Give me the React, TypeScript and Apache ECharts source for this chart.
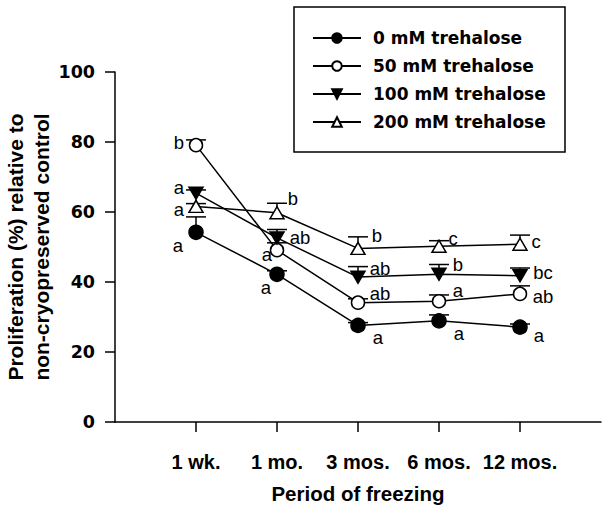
import { useEffect, useRef } from "react";
import * as echarts from "echarts";

const periods = ["1 wk.", "1 mo.", "3 mos.", "6 mos.", "12 mos."];
const seriesNames = ["0 mM trehalose", "50 mM trehalose", "100 mM trehalose", "200 mM trehalose"];

const mean0 = [54.2, 42.2, 27.6, 28.9, 27.1];
const mean50 = [79.1, 49.1, 34.1, 34.5, 36.6];
const mean100 = [65.4, 52.6, 41.4, 42.2, 41.8];
const mean200 = [61.6, 59.8, 49.6, 50.2, 50.8];

// top of each error bar
const upper0 = [58.6, 43.2, 28.4, 30.6, 28.0];
const upper50 = [80.6, 51.2, 35.2, 36.3, 38.9];
const upper100 = [66.3, 55.0, 44.4, 45.0, 44.0];
const upper200 = [62.4, 62.5, 52.9, 51.8, 53.4];

const letters0 = ["a", "a", "a", "a", "a"];
const letters50 = ["b", "a", "ab", "a", "ab"];
const letters100 = ["a", "ab", "ab", "b", "bc"];
const letters200 = ["a", "b", "b", "c", "c"];

// pixel offset of each letter from its point
const offsets0 = [[-18, 13], [-11, 13], [20, 12], [20, 13], [19, 8]];
const offsets50 = [[-17, -3], [-10, 4], [22, -9], [19, -11], [23, 3]];
const offsets100 = [[-17, -6], [23, 0], [22, -9], [19, -10], [23, -3]];
const offsets200 = [[-17, 3], [16, -14], [19, -13], [14, -8], [16, -3]];

const FONT = "'Liberation Sans', Arial, Helvetica, sans-serif";
const WIDE = "'DejaVu Sans', Verdana, sans-serif";

const groups = [
  { name: seriesNames[0], mean: mean0, upper: upper0, letters: letters0, offsets: offsets0, symbol: "circle", fill: "#000", size: 14, rotate: 0 },
  { name: seriesNames[1], mean: mean50, upper: upper50, letters: letters50, offsets: offsets50, symbol: "circle", fill: "#fff", size: 13, rotate: 0 },
  { name: seriesNames[2], mean: mean100, upper: upper100, letters: letters100, offsets: offsets100, symbol: "triangle", fill: "#000", size: [14, 12], rotate: 180 },
  { name: seriesNames[3], mean: mean200, upper: upper200, letters: letters200, offsets: offsets200, symbol: "triangle", fill: "#fff", size: [14, 12], rotate: 0 },
];

const App = () => {
  const chartRef = useRef(null);

  useEffect(() => {
    if (!chartRef.current) return;
    const chart = echarts.init(chartRef.current, null, { renderer: "svg" });

    const errorSeries = groups.map((g) => ({
      type: "custom",
      z: 1,
      silent: true,
      data: g.mean.map((v, i) => [i + 1, v, g.upper[i]]),
      encode: { x: 0, y: [1, 2] },
      renderItem: (params: any, api: any) => {
        const x = api.value(0);
        const lo = api.coord([x, api.value(1)]);
        const hi = api.coord([x, api.value(2)]);
        const style = { stroke: "#000", lineWidth: 1.5 };
        return {
          type: "group",
          children: [
            { type: "line", shape: { x1: lo[0], y1: lo[1], x2: hi[0], y2: hi[1] }, style },
            { type: "line", shape: { x1: hi[0] - 10, y1: hi[1], x2: hi[0] + 10, y2: hi[1] }, style },
          ],
        };
      },
    }));

    const lineSeries = groups.map((g) => ({
      name: g.name,
      type: "line",
      z: 3,
      data: g.mean.map((v, i) => [i + 1, v]),
      symbol: g.symbol,
      symbolSize: g.size,
      symbolRotate: g.rotate,
      showAllSymbol: true,
      lineStyle: { color: "#000", width: 1.5 },
      itemStyle: { color: g.fill, borderColor: "#000", borderWidth: 1.5 },
    }));

    const letterSeries = groups.map((g) => ({
      type: "custom",
      z: 4,
      silent: true,
      data: g.mean.map((v, i) => [i + 1, v, i]),
      renderItem: (params: any, api: any) => {
        const idx = api.value(2);
        const p = api.coord([api.value(0), api.value(1)]);
        const off = g.offsets[idx];
        return {
          type: "text",
          style: {
            text: g.letters[idx],
            x: p[0] + off[0],
            y: p[1] + off[1],
            fill: "#000",
            font: `18.5px ${FONT}`,
            align: "center",
            verticalAlign: "middle",
          },
        };
      },
    }));

    const option = {
      animation: false,
      backgroundColor: "#fff",
      grid: { left: 115, right: 8, top: 72, bottom: 90, outerBoundsMode: "none", containLabel: false },
      legend: {
        data: seriesNames,
        orient: "vertical",
        left: 307,
        top: 23,
        itemWidth: 48,
        itemHeight: 12,
        itemGap: 8,
        selectedMode: false,
        textStyle: {
          fontFamily: WIDE,
          fontSize: 17,
          fontWeight: "bold",
          color: "#000",
          lineHeight: 20,
          padding: [0, 0, 0, 7],
        },
      },
      graphic: [
        {
          type: "rect",
          shape: { x: 294, y: 7, width: 271, height: 145 },
          style: { fill: "none", stroke: "#000", lineWidth: 1.5 },
          z: 10,
        },
      ],
      xAxis: {
        type: "category",
        data: ["", ...periods, " "],
        boundaryGap: false,
        name: "Period of freezing",
        nameLocation: "middle",
        nameGap: 61,
        nameMoveOverlap: false,
        nameTextStyle: { fontFamily: FONT, fontSize: 20.5, fontWeight: "bold", color: "#000" },
        axisLine: { lineStyle: { color: "#000", width: 1.5 } },
        axisTick: {
          length: 10,
          interval: (i: number) => i >= 1 && i <= 5,
          lineStyle: { color: "#000", width: 1.5 },
        },
        axisLabel: {
          interval: 0,
          margin: 30,
          fontFamily: FONT,
          fontSize: 20,
          fontWeight: "bold",
          color: "#000",
        },
        splitLine: { show: false },
      },
      yAxis: {
        type: "value",
        min: 0,
        max: 100,
        interval: 20,
        name: "Proliferation (%) relative to\nnon-cryopreserved control",
        nameLocation: "middle",
        nameGap: 61,
        nameMoveOverlap: false,
        nameTextStyle: {
          fontFamily: FONT,
          fontSize: 21,
          fontWeight: "bold",
          color: "#000",
          lineHeight: 26,
        },
        axisLine: { show: true, lineStyle: { color: "#000", width: 1.5 } },
        axisTick: { show: true, length: 10, lineStyle: { color: "#000", width: 1.5 } },
        axisLabel: {
          margin: 20,
          fontFamily: WIDE,
          fontSize: 17.5,
          fontWeight: "bold",
          color: "#000",
        },
        splitLine: { show: false },
      },
      series: [...errorSeries, ...lineSeries, ...letterSeries],
    };

    chart.setOption(option);
    return () => {
      chart.dispose();
    };
  }, []);

  return (
    <div
      ref={chartRef}
      style={{ position: "fixed", left: 0, top: 0, width: 609, height: 512, background: "#fff" }}
    />
  );
};

export default App;
